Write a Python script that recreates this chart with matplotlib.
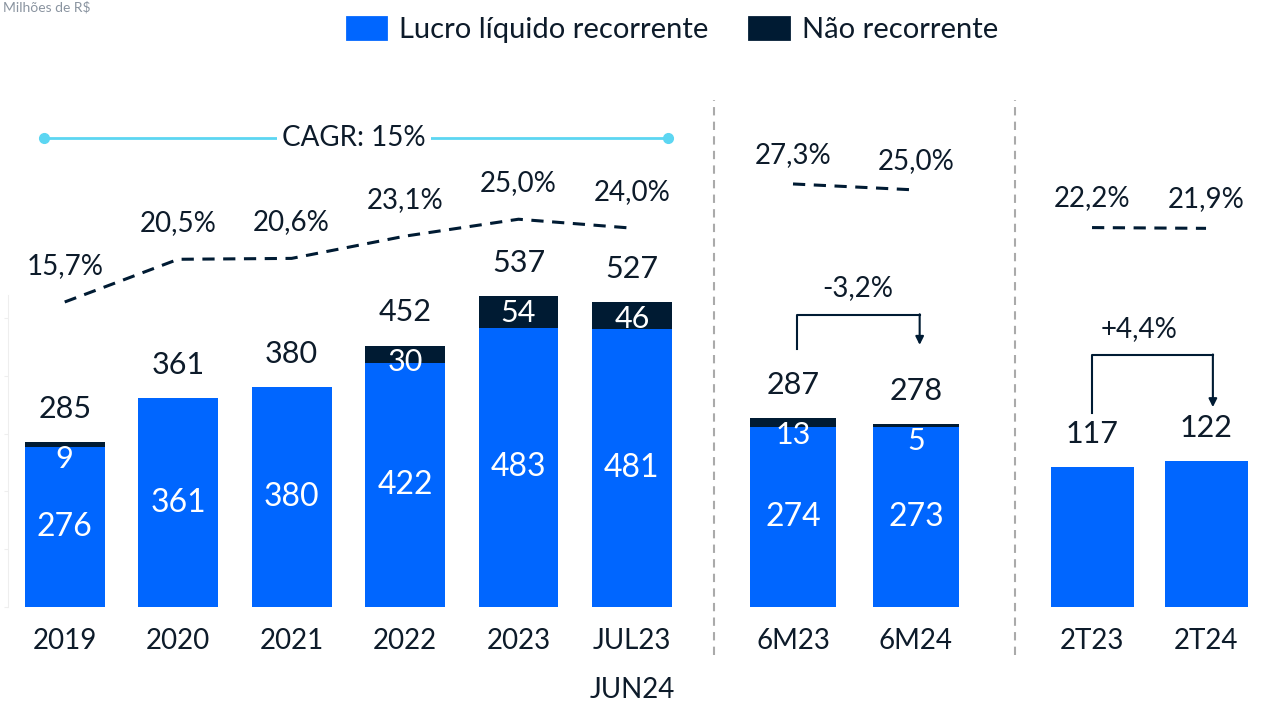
import matplotlib.pyplot as plt
from matplotlib.lines import Line2D
from matplotlib.patches import Patch

plt.rcParams['font.family'] = ['Lato', 'DejaVu Sans']

BLUE = '#0066ff'
DARK = '#001b33'
TXT = '#0d1b2a'
CYAN = '#5cd6f2'

# anual
years = ['2019', '2020', '2021', '2022', '2023', 'JUL23\nJUN24']
years_rec = [276, 361, 380, 422, 483, 481]
years_nonrec = [9, 0, 0, 30, 54, 46]
years_total = [285, 361, 380, 452, 537, 527]
years_margin = [15.7, 20.5, 20.6, 23.1, 25.0, 24.0]
cagr_label = 'CAGR: 15%'

# semestre
sem = ['6M23', '6M24']
sem_rec = [274, 273]
sem_nonrec = [13, 5]
sem_total = [287, 278]
sem_margin = [27.3, 25.0]
sem_change = '-3,2%'

# trimestre
tri = ['2T23', '2T24']
tri_rec = [117, 122]
tri_nonrec = [0, 0]
tri_total = [117, 122]
tri_margin = [22.2, 21.9]
tri_change = '+4,4%'


def fmt(v):
    return f'{v:.1f}%'.replace('.', ',')


fig = plt.figure(figsize=(12.66, 7.16), dpi=100)
bottom = 1 - 607 / 716
height = 517 / 716

panels = [
    dict(rect=[8 / 1266, bottom, 692 / 1266, height], xlim=(-0.5, 5.6), ylim=(0, 894),
         mlim=(-18.57, 39.52), cats=years, rec=years_rec, non=years_nonrec,
         tot=years_total, mar=years_margin, width=0.705, moff=26, inner=True),
    dict(rect=[725 / 1266, bottom, 280 / 1266, height], xlim=(-0.553, 1.724), ylim=(0, 785),
         mlim=(-134.8, 63.3), cats=sem, rec=sem_rec, non=sem_nonrec,
         tot=sem_total, mar=sem_margin, width=0.707, moff=21, inner=True),
    dict(rect=[1025 / 1266, bottom, 241 / 1266, height], xlim=(-0.588, 1.526), ylim=(0, 432),
         mlim=(-123.7, 75.1), cats=tri, rec=tri_rec, non=tri_nonrec,
         tot=tri_total, mar=tri_margin, width=0.728, moff=21, inner=False),
]

axes = []
for p in panels:
    ax = fig.add_axes(p['rect'])
    x = list(range(len(p['cats'])))
    ax.bar(x, p['rec'], width=p['width'], color=BLUE, zorder=2)
    ax.bar(x, p['non'], bottom=p['rec'], width=p['width'], color=DARK, zorder=2)
    for xi, r, n, t in zip(x, p['rec'], p['non'], p['tot']):
        if p['inner']:
            ax.text(xi, r / 2, str(r), ha='center', va='center', color='white',
                    fontsize=23, zorder=3)
        if n:
            ax.annotate(str(n), (xi, t), xytext=(0, -2), textcoords='offset points',
                        ha='center', va='top', color='white', fontsize=22, zorder=3)
        ax.annotate(str(t), (xi, t), xytext=(0, 24), textcoords='offset points',
                    ha='center', va='center', color=TXT, fontsize=22)
    ax.set_xlim(*p['xlim'])
    ax.set_ylim(*p['ylim'])
    ax.set_xticks(x)
    ax.set_xticklabels(p['cats'], fontsize=20, color=TXT)
    ax.tick_params(axis='x', length=0, pad=15)
    ax.set_yticks([])
    for s in ax.spines.values():
        s.set_visible(False)

    tw = ax.twinx()
    tw.plot(x, p['mar'], color=DARK, lw=2.2, dashes=(4, 2.8), zorder=4)
    for xi, m in zip(x, p['mar']):
        tw.annotate(fmt(m), (xi, m), xytext=(0, p['moff']), textcoords='offset points',
                    ha='center', va='center', color=TXT, fontsize=20)
    tw.set_ylim(*p['mlim'])
    tw.set_yticks([])
    for s in tw.spines.values():
        s.set_visible(False)
    axes.append(ax)

ax1, ax2, ax3 = axes
for lbl in ax1.get_xticklabels():
    lbl.set_linespacing(2.1)

# eixo y esmaecido
ax1.spines['left'].set_visible(True)
ax1.spines['left'].set_color('#eeeeee')
ax1.spines['left'].set_bounds(0, 540)
ax1.set_yticks(range(0, 600, 100))
ax1.set_yticklabels([])
ax1.tick_params(axis='y', length=3, color='#eeeeee')

# CAGR
ax1.plot([-0.18, 5.32], [811, 811], color=CYAN, lw=2, marker='o', ms=7, zorder=1)
ax1.text(2.55, 811, cagr_label, ha='center', va='center', fontsize=20, color=TXT,
         bbox=dict(facecolor='white', edgecolor='none', pad=4))


def bracket(ax, y0, ytop, ytip, x0, x1, label, lx, ly):
    ax.plot([x0, x0, x1], [y0, ytop, ytop], color=DARK, lw=1.5)
    ax.annotate('', xy=(x1, ytip), xytext=(x1, ytop + 0.5),
                arrowprops=dict(arrowstyle='-|>', color=DARK, lw=1.5, mutation_scale=12,
                                shrinkA=0, shrinkB=0))
    ax.text(lx, ly, label, ha='center', va='center', fontsize=20, color=TXT)


bracket(ax2, 392, 444, 398, 0.03, 1.03, sem_change, 0.53, 484)
bracket(ax3, 162, 210.5, 167, 0.0, 1.06, tri_change, 0.41, 232)

# divisores
for xp in (714, 1015):
    fig.add_artist(Line2D([xp / 1266, xp / 1266], [1 - 655 / 716, 1 - 100 / 716],
                          color='#aaaaaa', lw=1.5, dashes=(4, 3)))

# legenda
handles = [Patch(facecolor=BLUE, edgecolor=BLUE, lw=2, joinstyle='round',
                 label='Lucro líquido recorrente'),
           Patch(facecolor=DARK, edgecolor=DARK, lw=2, joinstyle='round',
                 label='Não recorrente')]
fig.legend(handles=handles, loc='center', bbox_to_anchor=(0.531, 0.958), ncol=2,
           frameon=False, fontsize=21, handlelength=1.35, handleheight=0.75,
           columnspacing=1.4, handletextpad=0.45, labelcolor=TXT)

fig.text(0.002, 0.998, 'Milhões de R$', fontsize=10, color='#8a94a0', va='top')

fig.savefig('out.png', dpi=100)
